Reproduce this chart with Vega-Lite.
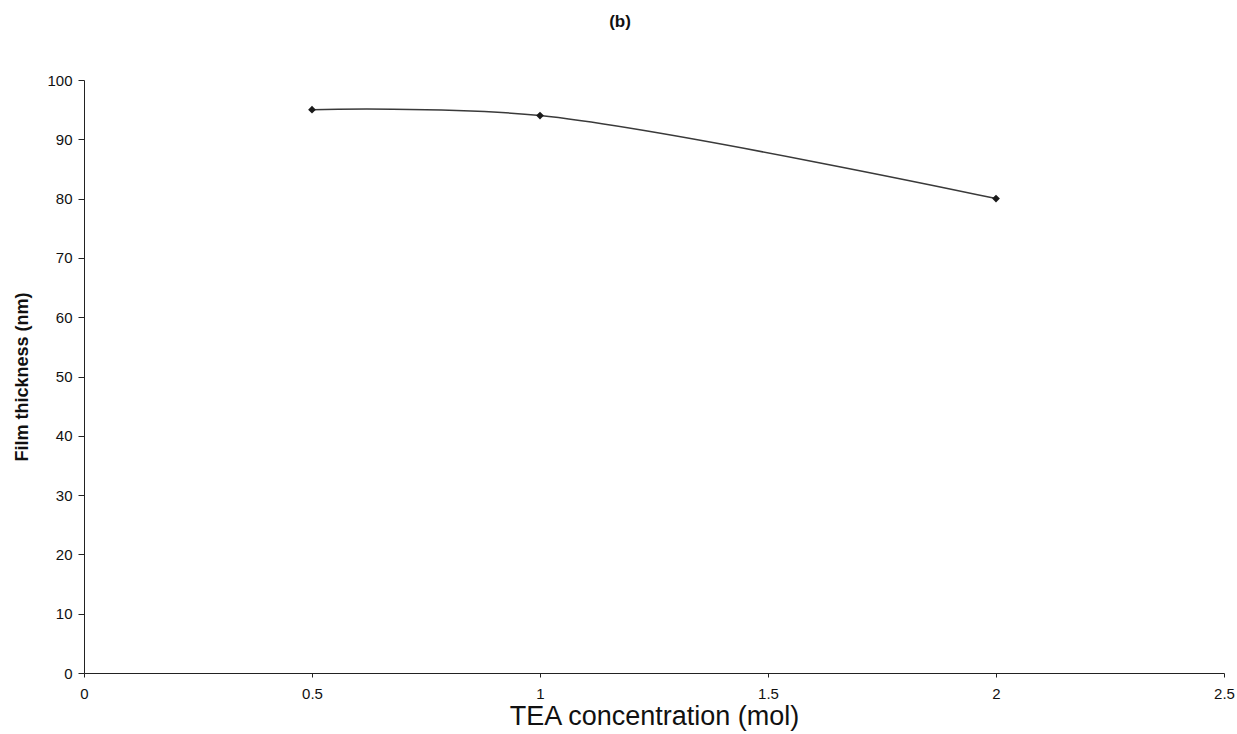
{
  "$schema": "https://vega.github.io/schema/vega-lite/v6.json",
  "width": 1140,
  "height": 593,
  "autosize": {"type": "none"},
  "padding": {"left": 84, "top": 80, "right": 13, "bottom": 61},
  "background": "white",
  "title": {
    "text": "(b)",
    "font": "Liberation Sans",
    "fontSize": 17,
    "fontWeight": "bold",
    "color": "#111",
    "anchor": "middle",
    "dx": -34,
    "offset": 42
  },
  "config": {
    "view": {"stroke": null},
    "axis": {
      "grid": false,
      "domainColor": "#222",
      "tickColor": "#222",
      "labelFont": "Liberation Sans",
      "labelFontSize": 15,
      "labelColor": "#111",
      "titleFont": "Liberation Sans",
      "titleColor": "#111"
    }
  },
  "data": {
    "values": [
      {"tea": 0.5, "thickness": 95},
      {"tea": 1.0, "thickness": 94},
      {"tea": 2.0, "thickness": 80}
    ]
  },
  "encoding": {
    "x": {
      "field": "tea",
      "type": "quantitative",
      "scale": {"domain": [0, 2.5], "nice": false, "zero": true},
      "axis": {
        "title": "TEA concentration (mol)",
        "titleFontSize": 27,
        "titleFontWeight": "normal",
        "titlePadding": 2,
        "values": [0, 0.5, 1, 1.5, 2, 2.5],
        "format": "~g",
        "tickSize": 4,
        "labelPadding": 9,
        "labelFlush": false
      }
    },
    "y": {
      "field": "thickness",
      "type": "quantitative",
      "scale": {"domain": [0, 100], "nice": false},
      "axis": {
        "title": "Film thickness (nm)",
        "titleFontSize": 18,
        "titleFontWeight": "bold",
        "titlePadding": 15,
        "values": [0, 10, 20, 30, 40, 50, 60, 70, 80, 90, 100],
        "format": "d",
        "tickSize": 6,
        "labelPadding": 6
      }
    }
  },
  "layer": [
    {
      "mark": {"type": "line", "interpolate": "catmull-rom", "color": "#3a3a3a", "strokeWidth": 1.5}
    },
    {
      "mark": {"type": "point", "shape": "diamond", "filled": true, "size": 60, "color": "#1a1a1a", "opacity": 1}
    }
  ]
}
